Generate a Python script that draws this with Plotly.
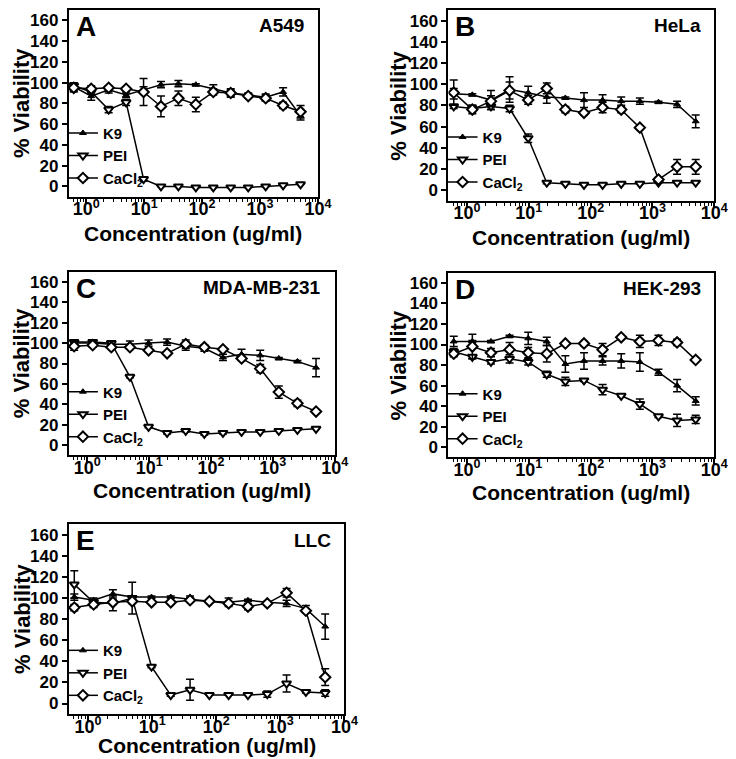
import plotly.graph_objects as go

conc = [0.61, 1.22, 2.44, 4.88, 9.77, 19.5, 39, 78, 156, 312, 625, 1250, 2500, 5000]

series_names = ["K9", "PEI", "CaCl<sub>2</sub>"]
panel_letters = ["A", "B", "C", "D", "E"]
cell_lines = ["A549", "HeLa", "MDA-MB-231", "HEK-293", "LLC"]
x_title = "Concentration (ug/ml)"
y_title = "% Viability"

a_k9 = [96, 87, 93, 88, 93, 98, 99, 98, 94, 90, 88, 86, 91, 68]
a_k9_err = [4, 4, 3, 2, 3, 3, 3, 1, 4, 3, 2, 3, 4, 4]
a_pei = [97, 91, 74, 81, 7, 0, 0, -1, -1, -1, -1, 0, 1, 2]
a_pei_err = [3, 2, 3, 3, 2, 0, 0, 0, 0, 0, 0, 0, 0, 0]
a_ca = [95, 94, 95, 94, 91, 77, 85, 79, 91, 90, 87, 85, 78, 72]
a_ca_err = [4, 3, 2, 2, 13, 10, 7, 7, 3, 4, 2, 3, 3, 6]

b_k9 = [91, 90, 85, 95, 92, 88, 87, 85, 85, 84, 84, 83, 81, 65]
b_k9_err = [5, 1, 9, 12, 6, 6, 1, 7, 5, 4, 3, 1, 3, 6]
b_pei = [79, 77, 79, 77, 49, 7, 6, 5, 5, 6, 6, 7, 7, 7]
b_pei_err = [2, 3, 3, 3, 4, 1, 0, 0, 0, 0, 0, 0, 0, 0]
b_ca = [92, 76, 84, 94, 85, 96, 76, 73, 78, 76, 59, 10, 22, 22]
b_ca_err = [12, 4, 5, 8, 4, 5, 3, 2, 5, 3, 1, 2, 7, 7]

c_k9 = [100, 100, 99, 99, 100, 101, 97, 95, 86, 89, 88, 85, 82, 76]
c_k9_err = [3, 2, 1, 3, 3, 3, 4, 3, 3, 5, 5, 1, 1, 9]
c_pei = [101, 101, 100, 67, 18, 12, 14, 11, 12, 13, 13, 14, 15, 16]
c_pei_err = [2, 1, 1, 1, 1, 1, 1, 1, 1, 0, 0, 0, 0, 0]
c_ca = [97, 98, 96, 96, 93, 90, 99, 96, 94, 85, 75, 52, 41, 33]
c_ca_err = [4, 2, 1, 2, 1, 1, 4, 2, 1, 2, 4, 6, 3, 1]

d_k9 = [103, 103, 103, 108, 106, 103, 81, 84, 84, 84, 83, 73, 60, 45]
d_k9_err = [5, 1, 1, 1, 6, 4, 8, 8, 4, 7, 9, 3, 6, 4]
d_pei = [93, 88, 83, 86, 83, 71, 64, 65, 56, 50, 42, 30, 26, 27]
d_pei_err = [3, 2, 2, 4, 3, 3, 4, 1, 5, 1, 5, 1, 6, 4]
d_ca = [91, 98, 92, 95, 92, 91, 101, 101, 95, 107, 103, 104, 102, 85]
d_ca_err = [3, 12, 4, 7, 5, 8, 1, 2, 6, 1, 6, 5, 3, 1]

e_k9 = [101, 98, 104, 101, 101, 101, 99, 97, 96, 98, 96, 95, 90, 73]
e_k9_err = [3, 2, 4, 1, 1, 1, 3, 1, 4, 1, 1, 3, 3, 12]
e_pei = [113, 96, 95, 100, 35, 8, 13, 8, 8, 8, 9, 19, 11, 10]
e_pei_err = [13, 3, 7, 15, 1, 1, 10, 0, 0, 0, 3, 8, 1, 3]
e_ca = [91, 94, 96, 97, 96, 96, 98, 97, 95, 92, 95, 105, 88, 25]
e_ca_err = [3, 3, 2, 2, 1, 1, 2, 1, 1, 3, 1, 4, 2, 8]

panels = [
    [(a_k9, a_k9_err), (a_pei, a_pei_err), (a_ca, a_ca_err)],
    [(b_k9, b_k9_err), (b_pei, b_pei_err), (b_ca, b_ca_err)],
    [(c_k9, c_k9_err), (c_pei, c_pei_err), (c_ca, c_ca_err)],
    [(d_k9, d_k9_err), (d_pei, d_pei_err), (d_ca, d_ca_err)],
    [(e_k9, e_k9_err), (e_pei, e_pei_err), (e_ca, e_ca_err)],
]

x_ticks = [1, 10, 100, 1000, 10000]
x_ticktext = ["10<sup>0</sup>", "10<sup>1</sup>", "10<sup>2</sup>", "10<sup>3</sup>", "10<sup>4</sup>"]
y_ticks = [0, 20, 40, 60, 80, 100, 120, 140, 160]

W, H = 736, 759
# plot areas in pixels: (left, right, top, bottom)
boxes = [
    (62, 316, 1, 188),
    (449, 720, 1, 192),
    (62, 333, 263, 447),
    (449, 720, 264, 449),
    (62, 343, 516, 706),
]
ytitle_x = [14, 398, 14, 398, 14]
xtitle_dy = [37, 37, 35, 35, 31]

FONT = "Liberation Sans, Arial, sans-serif"
styles = [
    dict(symbol="triangle-up", size=6, color="black", line=dict(color="black", width=1)),
    dict(symbol="triangle-down", size=8, color="white", line=dict(color="black", width=2)),
    dict(symbol="diamond", size=8, color="white", line=dict(color="black", width=2)),
]

minor_vals = [m * 10 ** d for d in range(-1, 4) for m in range(2, 10)]

fig = go.Figure()
layout = dict(
    width=W, height=H, margin=dict(l=0, r=0, t=0, b=0),
    plot_bgcolor="white", paper_bgcolor="white",
    font=dict(family=FONT, color="black"),
)
annotations = []

for i, (panel, box) in enumerate(zip(panels, boxes)):
    n = "" if i == 0 else str(i + 1)
    L, R, T, B = box
    legname = "legend" + n
    for j, (vals, errs) in enumerate(panel):
        fig.add_trace(go.Scatter(
            x=conc, y=vals, mode="lines+markers", name=series_names[j],
            xaxis="x" + n, yaxis="y" + n,
            line=dict(color="black", width=1.5),
            marker=styles[j],
            error_y=dict(type="data", array=errs, visible=True, color="black",
                         thickness=1.5, width=4),
            legend=legname, showlegend=True,
        ))
    layout["xaxis" + n] = dict(
        type="log", range=[-0.3, 4], domain=[L / W, R / W], anchor="y" + n,
        tickmode="array", tickvals=x_ticks, ticktext=x_ticktext,
        ticks="outside", ticklen=5, tickwidth=2, tickcolor="black",
        ticklabelstandoff=-10,
        minor=dict(tickmode="array", tickvals=minor_vals, ticks="outside",
                   ticklen=3, tickwidth=1, tickcolor="black"),
        showline=True, linewidth=2, linecolor="black", mirror=True,
        showgrid=False, zeroline=False,
        tickfont=dict(size=18, weight="bold"),
    )
    layout["yaxis" + n] = dict(
        range=[-10, 170], domain=[1 - B / H, 1 - T / H], anchor="x" + n,
        tickmode="array", tickvals=y_ticks,
        ticks="outside", ticklen=5, tickwidth=2, tickcolor="black",
        showline=True, linewidth=2, linecolor="black", mirror=True,
        showgrid=False, zeroline=False,
        tickfont=dict(size=17, weight="bold"),
    )
    layout[legname] = dict(
        x=(L - 6) / W, y=1 - (B - 2) / H, xanchor="left", yanchor="bottom",
        bgcolor="rgba(0,0,0,0)", font=dict(size=15, weight="bold"),
        itemwidth=30, tracegroupgap=0,
    )
    annotations.append(dict(
        text=panel_letters[i], xref="paper", yref="paper",
        x=(L + 5) / W, y=1 - max(T - 1, 0) / H, xanchor="left", yanchor="top",
        showarrow=False, font=dict(size=28, weight="bold"),
    ))
    annotations.append(dict(
        text=cell_lines[i], xref="paper", yref="paper",
        x=(R - 12) / W, y=1 - (T + 16) / H, xanchor="right", yanchor="middle",
        showarrow=False, font=dict(size=19, weight="bold"),
    ))
    annotations.append(dict(
        text=x_title, xref="paper", yref="paper",
        x=(L + R) / 2 / W, y=1 - (B + xtitle_dy[i]) / H, xanchor="center", yanchor="middle",
        showarrow=False, font=dict(size=21, weight="bold"),
    ))
    annotations.append(dict(
        text=y_title, xref="paper", yref="paper", textangle=-90,
        x=ytitle_x[i] / W, y=1 - (T + B) / 2 / H, xanchor="center", yanchor="middle",
        showarrow=False, font=dict(size=22, weight="bold"),
    ))

layout["annotations"] = annotations
fig.update_layout(**layout)
fig.write_html("out.html")
